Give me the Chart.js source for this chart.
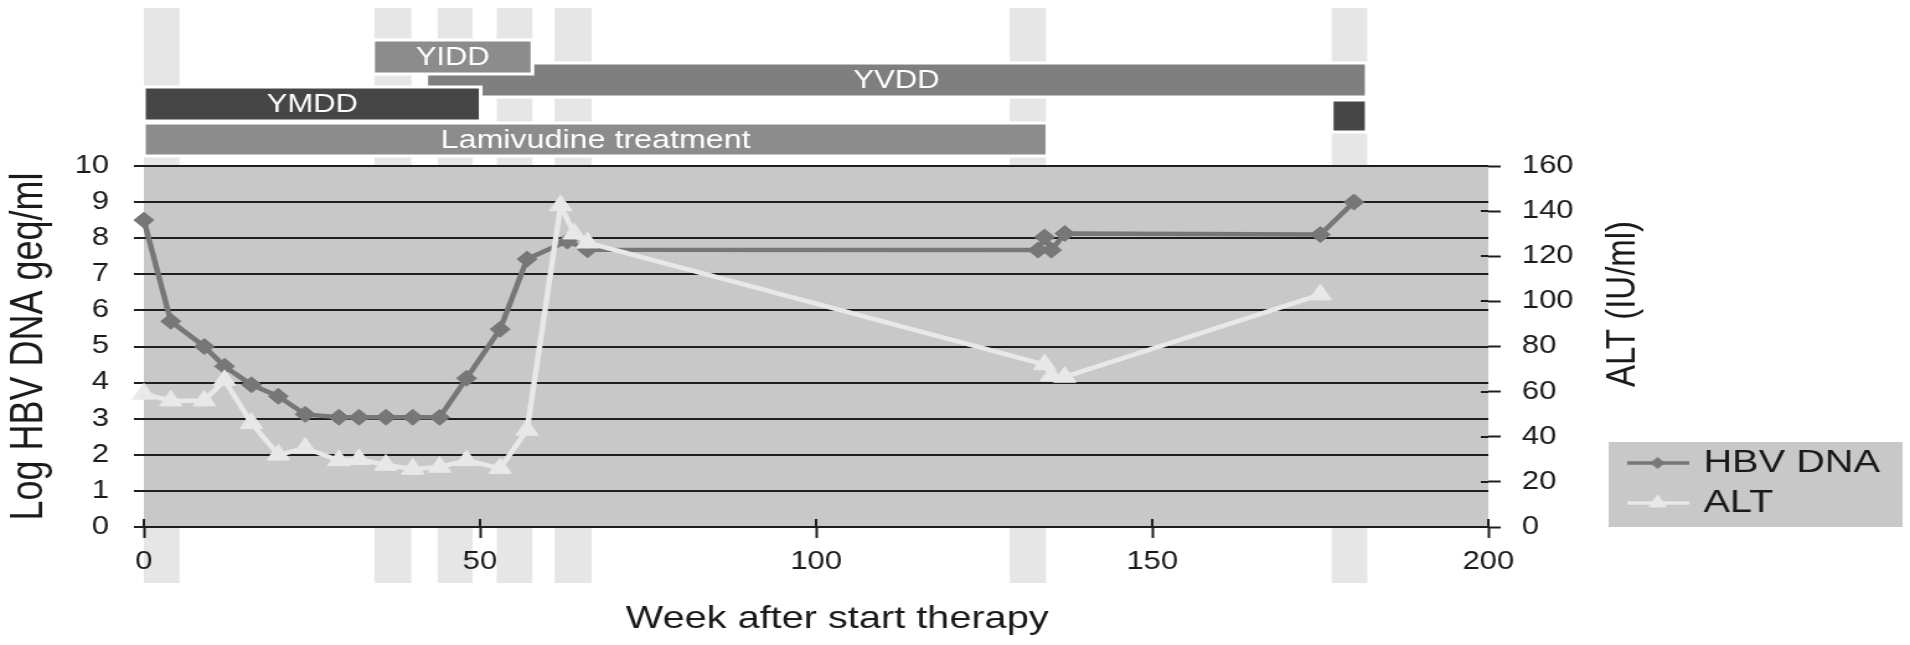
<!DOCTYPE html>
<html>
<head>
<meta charset="utf-8">
<title>HBV DNA and ALT during lamivudine therapy</title>
<script src="https://cdn.jsdelivr.net/npm/chart.js@4.4.1/dist/chart.umd.min.js"></script>
<style>
  html, body { margin: 0; padding: 0; background: #ffffff; overflow: hidden; }
  #wrap { width: 1910px; height: 645px; overflow: hidden; }
  /* the figure is drawn on a narrower canvas and widened to the page */
  #chart { display: block; transform-origin: 0 0; transform: scaleX(1.24026); }
</style>
</head>
<body>
<div id="wrap"><canvas id="chart" width="1540" height="645"></canvas></div>
<script>
// HBV DNA (log geq/ml) by week after start of therapy
const hbvWeeks = [0, 4, 9, 12, 16, 20, 24, 29, 32, 36, 40, 44, 48, 53, 57, 63, 66, 133, 134, 135, 137, 175, 180];
const hbvLog   = [8.5, 5.7, 5.0, 4.45, 3.94, 3.62, 3.12, 3.04, 3.04, 3.04, 3.04, 3.04, 4.12, 5.48, 7.42, 7.92, 7.68, 7.67, 8.03, 7.67, 8.13, 8.1, 9.0];

// ALT (IU/ml) by week after start of therapy
const altWeeks  = [0, 4, 9, 12, 16, 20, 24, 29, 32, 36, 40, 44, 48, 53, 57, 62, 64, 66, 134, 135, 137, 175];
const altValues = [59, 56, 56, 65, 46, 32, 35, 29.5, 30, 27.5, 25.7, 26.6, 29.5, 26, 43, 142.5, 130, 126, 72, 67, 66.5, 103];

// sampling windows (weeks), shown as light columns
const sampleStart = [0, 34.3, 43.7, 52.5, 61.1, 128.8, 176.7];
const sampleEnd   = [5.3, 39.8, 48.9, 57.8, 66.6, 134.2, 182.0];

// treatment period and detected polymerase variants (weeks)
const periodNames = ['Lamivudine treatment', 'YVDD', 'YIDD', 'YMDD', 'YMDD'];
const periodStart = [0, 42, 34.1, 0, 176.7];
const periodEnd   = [134.4, 181.9, 57.8, 50.1, 181.9];

// axis tick values
const weekTicks = [0, 50, 100, 150, 200];
const dnaTicks  = [0, 1, 2, 3, 4, 5, 6, 7, 8, 9, 10];
const altTicks  = [0, 20, 40, 60, 80, 100, 120, 140, 160];

// ---- presentation ----
const FONT = '"Liberation Sans", Arial, Helvetica, sans-serif';
const INK = '#1a1a1a';
const RULE = '#1e1e1e';
const HBV_COLOR = '#777777';
const ALT_COLOR = '#e8e8e8';
const PANEL = '#c8c8c8';

// rows of the period strip above the plot (pixels)
const periodStyle = [
  { top: 123, height: 33, color: '#8c8c8c', showName: true,  size: 26 },
  { top: 63,  height: 34, color: '#7f7f7f', showName: true,  size: 25 },
  { top: 40,  height: 34, color: '#8c8c8c', showName: true,  size: 25 },
  { top: 87,  height: 34, color: '#464646', showName: true,  size: 25 },
  { top: 100, height: 32, color: '#464646', showName: false, size: 25 }
];

// axis captions drawn outside the scale boxes
const captions = [
  { text: 'Week after start therapy', x: 675, y: 619, size: 32, rotate: 0 },
  { text: 'ALT (IU/ml)', x: 1309, y: 304, size: 33, rotate: -Math.PI / 2 }
];

function toPoints(xs, ys) { return xs.map((x, i) => ({ x: x, y: ys[i] })); }
function fixedTicks(values) { return scale => { scale.ticks = values.map(v => ({ value: v })); }; }

// legend symbols: a short line with the series marker
function legendSymbol(color, style, radius) {
  const c = document.createElement('canvas');
  c.width = 50; c.height = 22;
  const g = c.getContext('2d');
  g.strokeStyle = color; g.lineWidth = 3.5;
  g.beginPath(); g.moveTo(0, 11); g.lineTo(50, 11); g.stroke();
  g.fillStyle = color; g.strokeStyle = color; g.lineWidth = 1;
  Chart.helpers.drawPoint(g, { pointStyle: style, radius: radius, borderWidth: 1 }, 25, 11);
  return c;
}
const legendSymbols = [legendSymbol(HBV_COLOR, 'rectRot', 5.5), legendSymbol(ALT_COLOR, 'triangle', 8)];

// light sampling columns, plot panel, period strip and legend panel
const backdrop = {
  id: 'backdrop',
  beforeDraw(chart) {
    const { ctx, chartArea: a, scales: { x } } = chart;
    ctx.save();
    ctx.fillStyle = '#e6e6e6';
    sampleStart.forEach((s, i) => {
      const l = x.getPixelForValue(s), r = x.getPixelForValue(sampleEnd[i]);
      ctx.fillRect(l, 8, r - l, 575);
    });
    ctx.fillStyle = PANEL;
    ctx.fillRect(a.left, a.top, a.right - a.left, a.bottom - a.top);

    periodNames.forEach((name, i) => {
      const st = periodStyle[i];
      const l = x.getPixelForValue(periodStart[i]), r = x.getPixelForValue(periodEnd[i]);
      ctx.fillStyle = st.color;
      ctx.fillRect(l, st.top, r - l, st.height);
      ctx.lineWidth = 3; ctx.strokeStyle = '#ffffff';
      ctx.strokeRect(l, st.top, r - l, st.height);
      if (st.showName) {
        ctx.fillStyle = '#ffffff';
        ctx.font = st.size + 'px ' + FONT;
        ctx.textAlign = 'center'; ctx.textBaseline = 'middle';
        ctx.fillText(name, (l + r) / 2, st.top + st.height / 2 + 1);
      }
    });

    const lg = chart.legend;
    if (lg && lg.legendHitBoxes && lg.legendHitBoxes.length) {
      const top = lg.legendHitBoxes[0].top - 5;
      ctx.fillStyle = PANEL;
      ctx.fillRect(lg.left - 10.5, top, 237, lg.bottom - top);
    }
    ctx.restore();
  }
};

// tick marks that cross into the plot, and the axis captions
const axisMarks = {
  id: 'axisMarks',
  beforeDatasetsDraw(chart) {
    const { ctx, chartArea: a, scales: { x, y1 } } = chart;
    ctx.save();
    ctx.strokeStyle = RULE; ctx.lineWidth = 2;
    ctx.beginPath();
    x.ticks.forEach(t => {
      const px = Math.round(x.getPixelForValue(t.value));
      ctx.moveTo(px, a.bottom - 8); ctx.lineTo(px, a.bottom);
    });
    y1.ticks.forEach(t => {
      const py = Math.round(y1.getPixelForValue(t.value));
      ctx.moveTo(a.right - 6, py); ctx.lineTo(a.right, py);
    });
    ctx.stroke();
    ctx.restore();
  },
  afterDraw(chart) {
    const { ctx } = chart;
    captions.forEach(c => {
      ctx.save();
      ctx.translate(c.x, c.y);
      ctx.rotate(c.rotate);
      ctx.fillStyle = INK;
      ctx.font = c.size + 'px ' + FONT;
      ctx.textAlign = 'center'; ctx.textBaseline = 'middle';
      ctx.fillText(c.text, 0, 0);
      ctx.restore();
    });
  }
};

new Chart(document.getElementById('chart'), {
  type: 'line',
  data: {
    datasets: [
      {
        label: 'HBV DNA',
        data: toPoints(hbvWeeks, hbvLog),
        yAxisID: 'y',
        order: 1,
        borderColor: HBV_COLOR,
        backgroundColor: HBV_COLOR,
        borderWidth: 4.5,
        pointStyle: 'rectRot',
        pointRadius: 8,
        pointBorderWidth: 1,
        tension: 0,
        clip: false
      },
      {
        label: 'ALT',
        data: toPoints(altWeeks, altValues),
        yAxisID: 'y1',
        order: 0,
        borderColor: ALT_COLOR,
        backgroundColor: ALT_COLOR,
        borderWidth: 4.5,
        pointStyle: 'triangle',
        pointRadius: 10.5,
        pointBorderWidth: 1,
        tension: 0,
        clip: false
      }
    ]
  },
  options: {
    responsive: false,
    animation: false,
    devicePixelRatio: 1,
    events: [],
    layout: { padding: { top: 166, right: 22.5, bottom: 0, left: 0 } },
    plugins: {
      tooltip: { enabled: false },
      legend: {
        position: 'right',
        align: 'end',
        fullSize: false,
        maxWidth: 210,
        labels: {
          usePointStyle: true,
          pointStyleWidth: 42,
          padding: 8,
          color: INK,
          font: { size: 32, family: FONT },
          sort: (a, b) => a.datasetIndex - b.datasetIndex,
          generateLabels(chart) {
            const items = Chart.defaults.plugins.legend.labels.generateLabels(chart);
            items.forEach(it => { it.pointStyle = legendSymbols[it.datasetIndex]; });
            return items;
          }
        }
      }
    },
    scales: {
      x: {
        type: 'linear',
        min: 0, max: 200,
        afterBuildTicks: fixedTicks(weekTicks),
        afterFit(s) { s.height = 118; },
        border: { display: false },
        grid: { drawOnChartArea: false, drawTicks: true, tickLength: 11, tickWidth: 2, tickColor: RULE },
        ticks: { color: INK, font: { size: 25, family: FONT }, padding: 9, maxRotation: 0, autoSkip: false }
      },
      y: {
        position: 'left',
        min: 0, max: 10,
        afterBuildTicks: fixedTicks(dnaTicks),
        afterFit(s) { s.width = 116; },
        border: { display: false },
        grid: { color: RULE, lineWidth: 2, drawTicks: true, tickLength: 8 },
        ticks: { color: INK, font: { size: 25, family: FONT }, padding: 20, autoSkip: false },
        title: { display: true, text: 'Log HBV DNA geq/ml', color: INK, font: { size: 36, family: FONT }, padding: { top: 2, bottom: 0 } }
      },
      y1: {
        position: 'right',
        min: 0, max: 160,
        afterBuildTicks: fixedTicks(altTicks),
        afterFit(s) { s.width = 107.5; },
        border: { display: false },
        grid: { drawOnChartArea: false, drawTicks: true, tickLength: 10, tickWidth: 2, tickColor: RULE },
        ticks: { color: INK, font: { size: 25, family: FONT }, padding: 17, autoSkip: false }
      }
    }
  },
  plugins: [backdrop, axisMarks]
});
</script>
</body>
</html>
